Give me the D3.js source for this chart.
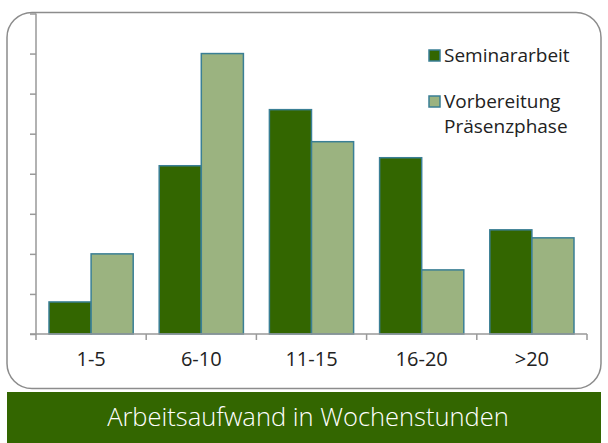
<!DOCTYPE html>
<style>
  body { margin: 0; background: #fff; }
  svg { font-family: "Open Sans", "Noto Sans", sans-serif; display: block; }
</style>
<svg width="608" height="443"></svg>
<script src="https://d3js.org/d3.v7.min.js"></script>
<script>

  var categories = ["1-5", "6-10", "11-15", "16-20", ">20"];
  var seriesNames = ["Seminararbeit", "Vorbereitung Präsenzphase"];
  var seminararbeit = [4, 21, 28, 22, 13];
  var vorbereitung = [10, 35, 24, 8, 12];
  var yTicks = [0, 5, 10, 15, 20, 25, 30, 35, 40];
  var title = "Arbeitsaufwand in Wochenstunden";

  var colors = ["#336600", "#9bb380"],
    barStroke = "#3a7f95";

  var svg = d3.select("svg");

  // outer rounded frame
  svg.append("rect")
    .attr("x", 7).attr("y", 12.5)
    .attr("width", 594).attr("height", 376)
    .attr("rx", 25).attr("ry", 25)
    .attr("fill", "#fff")
    .attr("stroke", "#8c8c8c")
    .attr("stroke-width", 1.5);

  var x = d3.scaleBand().domain(categories).range([36, 587]);
  var x1 = d3.scaleBand().domain([0, 1]).range([13, x.bandwidth() - 13]);
  var y = d3.scaleLinear().domain([0, 40]).range([334, 13.5]);

  var rows = categories.map(function (c, i) {
    return { cat: c, values: [seminararbeit[i], vorbereitung[i]] };
  });

  // y axis, ticks only
  var yAxis = svg.append("g")
    .attr("transform", "translate(36,0)")
    .call(d3.axisLeft(y).tickValues(yTicks).tickSize(6).tickFormat(""));
  yAxis.selectAll("path, line").attr("stroke", "#999").attr("stroke-width", 1.5);
  yAxis.select(".domain").attr("d", "M0," + y(0) + "V" + y(40));

  var group = svg.selectAll("g.cat")
    .data(rows)
    .enter().append("g")
    .attr("class", "cat")
    .attr("transform", function (d) { return "translate(" + x(d.cat) + ",0)"; });

  group.selectAll("rect")
    .data(function (d) { return d.values; })
    .enter().append("rect")
    .attr("x", function (d, i) { return x1(i); })
    .attr("y", function (d) { return y(d); })
    .attr("width", x1.bandwidth())
    .attr("height", function (d) { return y(0) - y(d); })
    .attr("fill", function (d, i) { return colors[i]; })
    .attr("stroke", barStroke)
    .attr("stroke-width", 1.5);

  // x axis
  var xAxis = svg.append("g")
    .attr("transform", "translate(0," + y(0) + ")")
    .call(d3.axisBottom(x).tickSize(0).tickPadding(18));
  xAxis.select(".domain").attr("d", "M30,0H587").attr("stroke", "#999").attr("stroke-width", 1.5);
  xAxis.selectAll("text").attr("font-size", 20).attr("fill", "#222").attr("font-family", "Open Sans, sans-serif");
  // separators between categories
  svg.append("g").selectAll("line")
    .data(categories.concat(["end"]))
    .enter().append("line")
    .attr("x1", function (d, i) { return i < categories.length ? x(d) : x.range()[1]; })
    .attr("x2", function (d, i) { return i < categories.length ? x(d) : x.range()[1]; })
    .attr("y1", y(0)).attr("y2", y(0) + 6)
    .attr("stroke", "#999").attr("stroke-width", 1.5);

  // legend
  var legend = svg.append("g").attr("transform", "translate(429,50)");
  var items = legend.selectAll("g")
    .data(seriesNames)
    .enter().append("g")
    .attr("transform", function (d, i) { return "translate(0," + i * 46 + ")"; });
  items.append("rect")
    .attr("width", 11).attr("height", 11)
    .attr("fill", function (d, i) { return colors[i]; })
    .attr("stroke", barStroke).attr("stroke-width", 1.5);
  items.append("text")
    .attr("x", 15).attr("y", 12)
    .attr("font-size", 19).attr("fill", "#222")
    .selectAll("tspan")
    .data(function (d) { return d.split(" "); })
    .enter().append("tspan")
    .attr("x", 15)
    .attr("dy", function (d, i) { return i ? 25 : 0; })
    .text(function (d) { return d; });

  // title band
  svg.append("rect")
    .attr("x", 7).attr("y", 392)
    .attr("width", 594).attr("height", 51)
    .attr("fill", "#336600");
  svg.append("text")
    .attr("x", 308).attr("y", 426)
    .attr("text-anchor", "middle")
    .attr("font-size", 25.5).attr("font-weight", 300)
    .attr("fill", "#fff")
    .text(title);

</script>
